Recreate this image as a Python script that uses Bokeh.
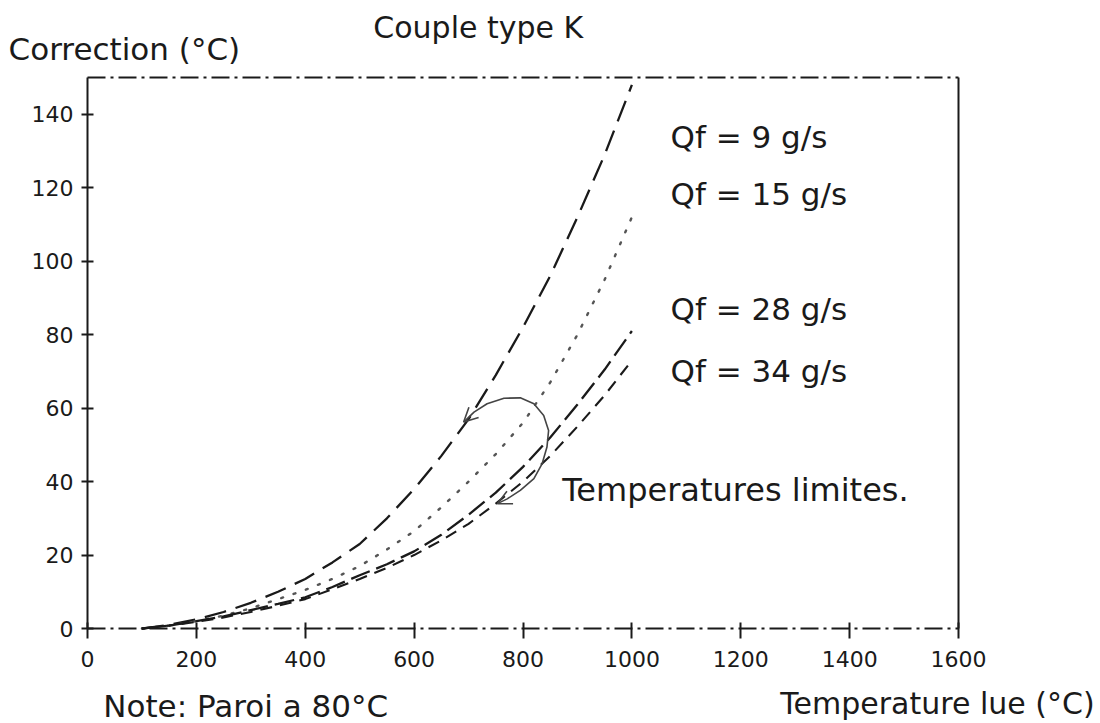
from bokeh.plotting import figure
from bokeh.models import Label, LinearAxis, FixedTicker, Arrow, OpenHead
from bokeh.embed import file_html
from bokeh.resources import INLINE

# ---- data ----
temp_lue = [100, 150, 200, 250, 300, 350, 400, 450, 500, 550, 600, 650, 700, 750, 800, 850, 900, 950, 1000]
qf9  = [0, 1.0, 2.5, 4.5, 7, 10, 13.5, 18, 23, 30, 38, 47, 57, 69, 82, 96, 112, 129, 148]
qf15 = [0, 0.8, 2.0, 3.5, 5.5, 8, 10.5, 13.5, 17, 21.5, 26.5, 33, 40, 47.5, 56, 67, 80, 95, 112]
qf28 = [0, 0.8, 2.0, 3.3, 5, 6.7, 8.5, 11.3, 14.5, 17.5, 21, 25.5, 31, 37, 44, 52, 61, 70.5, 81]
qf34 = [0, 0.8, 1.8, 3.0, 4.5, 6.2, 8, 10.7, 13.5, 16.5, 20, 24, 28.5, 34, 40, 47, 55, 63.5, 73]

# "Temperatures limites" loop (arrow from the 9 g/s curve round to the 34 g/s curve)
loop_x = [691, 710, 734, 765, 795, 820, 838, 847, 844, 835, 820, 795, 771, 753]
loop_y = [56.2, 58.9, 61.2, 62.7, 62.8, 61.2, 58, 53.9, 49.4, 44.8, 40.8, 37.6, 35.3, 34]

x_ticks = [0, 200, 400, 600, 800, 1000, 1200, 1400, 1600]
y_ticks = [0, 20, 40, 60, 80, 100, 120, 140]
x_lim = (0, 1600)
y_lim = (0, 150)

FONT = "DejaVu Sans"
INK = "#1a1a1a"

# the frame fills the whole canvas; the boxed axes sit at fixed data locations
p = figure(width=1100, height=723, x_range=(-159.8, 1860.8), y_range=(-25.86, 170.98),
           output_backend="svg", toolbar_location=None, min_border=0,
           x_axis_location=None, y_axis_location=None)
p.grid.visible = False
p.outline_line_color = None
p.background_fill_color = "white"
p.border_fill_color = "white"

def make_axis(loc, bounds, ticks, dash, tick_in, tick_out, standoff):
    ax = LinearAxis(fixed_location=loc, bounds=bounds)
    ax.ticker = FixedTicker(ticks=ticks)
    ax.minor_tick_line_color = None
    ax.axis_line_color = INK
    ax.axis_line_width = 2
    ax.axis_line_dash = dash
    ax.major_tick_line_color = INK
    ax.major_tick_line_width = 2
    ax.major_tick_in = tick_in
    ax.major_tick_out = tick_out
    ax.major_label_standoff = standoff
    ax.major_label_text_font = FONT
    ax.major_label_text_font_size = "22px"
    ax.major_label_text_color = INK
    return ax

p.add_layout(make_axis(x_lim[0], y_lim, y_ticks, "solid", 6, 6, 8), "left")
p.add_layout(make_axis(y_lim[0], x_lim, x_ticks, "18 5 3 5", 6, 10, 12), "below")
p.add_layout(make_axis(y_lim[1], x_lim, [], "18 5 3 5", 0, 0, 0), "above")
p.add_layout(make_axis(x_lim[1], y_lim, [], "solid", 0, 0, 0), "right")

# ---- curves ----
p.line(temp_lue, qf9, line_color=INK, line_width=2.3, line_dash="22 10")
p.line(temp_lue, qf15, line_color="#555555", line_width=2.4, line_dash="2 11", line_cap="round")
p.line(temp_lue, qf28, line_color=INK, line_width=2.3, line_dash="20 7")
p.line(temp_lue, qf34, line_color=INK, line_width=2.1, line_dash="12 8")

# ---- temperature-limit loop with arrowheads ----
p.line(loop_x, loop_y, line_color="#444444", line_width=1.6)
p.add_layout(Arrow(end=OpenHead(size=14, line_color="#444444", line_width=1.6),
                   x_start=loop_x[1], y_start=loop_y[1], x_end=loop_x[0], y_end=loop_y[0],
                   line_alpha=0))
p.add_layout(Arrow(end=OpenHead(size=14, line_color="#444444", line_width=1.6),
                   x_start=loop_x[-2], y_start=loop_y[-2], x_end=loop_x[-1], y_end=loop_y[-1],
                   line_alpha=0))

# ---- texts ----
def add_text(txt, x, y, size="30px", align="left"):
    p.add_layout(Label(x=x, y=y, text=txt, text_font=FONT, text_font_size=size,
                       text_color=INK, text_align=align, text_baseline="middle"))

add_text("Couple type K", 525, 163.6)
add_text("Correction (°C)", -145, 157.9, "31px")
add_text("Note: Paroi a 80°C", 29, -21, "31px")
add_text("Temperature lue (°C)", 1850, -20.4, "30px", "right")
add_text("Qf = 9 g/s", 1071, 133.7, "31px")
add_text("Qf = 15 g/s", 1071, 118.4, "31px")
add_text("Qf = 28 g/s", 1071, 87.1, "31px")
add_text("Qf = 34 g/s", 1071, 70.2, "31px")
add_text("Temperatures limites.", 872, 37.6, "32px")

open("out.html", "w").write(file_html(p, INLINE))
